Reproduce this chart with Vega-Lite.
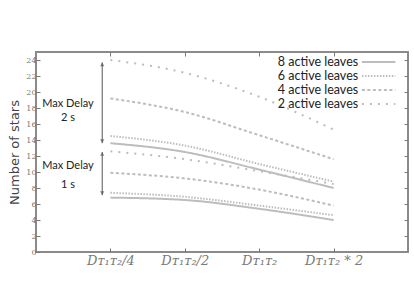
{
  "$schema": "https://vega.github.io/schema/vega-lite/v6.json",
  "width": 372,
  "height": 200,
  "autosize": "none",
  "padding": {"left": 36, "top": 52, "right": 6, "bottom": 50},
  "background": "white",
  "config": {
    "view": {"stroke": "#8a8a8a", "strokeWidth": 2},
    "axis": {"domain": false, "grid": false, "tickColor": "#777", "tickWidth": 1}
  },
  "datasets": {
    "lines": [
      {"leaves": "8 active leaves", "delay": "2 s", "x": 1, "y": 13.6},
      {"leaves": "8 active leaves", "delay": "2 s", "x": 2, "y": 12.5},
      {"leaves": "8 active leaves", "delay": "2 s", "x": 3, "y": 10.3},
      {"leaves": "8 active leaves", "delay": "2 s", "x": 4, "y": 8.0},
      {"leaves": "6 active leaves", "delay": "2 s", "x": 1, "y": 14.5},
      {"leaves": "6 active leaves", "delay": "2 s", "x": 2, "y": 13.3},
      {"leaves": "6 active leaves", "delay": "2 s", "x": 3, "y": 11.0},
      {"leaves": "6 active leaves", "delay": "2 s", "x": 4, "y": 8.8},
      {"leaves": "4 active leaves", "delay": "2 s", "x": 1, "y": 19.2},
      {"leaves": "4 active leaves", "delay": "2 s", "x": 2, "y": 17.5},
      {"leaves": "4 active leaves", "delay": "2 s", "x": 3, "y": 14.6},
      {"leaves": "4 active leaves", "delay": "2 s", "x": 4, "y": 11.6},
      {"leaves": "2 active leaves", "delay": "2 s", "x": 1, "y": 24.0},
      {"leaves": "2 active leaves", "delay": "2 s", "x": 2, "y": 22.4},
      {"leaves": "2 active leaves", "delay": "2 s", "x": 3, "y": 19.4},
      {"leaves": "2 active leaves", "delay": "2 s", "x": 4, "y": 15.3},
      {"leaves": "8 active leaves", "delay": "1 s", "x": 1, "y": 6.8},
      {"leaves": "8 active leaves", "delay": "1 s", "x": 2, "y": 6.5},
      {"leaves": "8 active leaves", "delay": "1 s", "x": 3, "y": 5.4},
      {"leaves": "8 active leaves", "delay": "1 s", "x": 4, "y": 4.0},
      {"leaves": "6 active leaves", "delay": "1 s", "x": 1, "y": 7.4},
      {"leaves": "6 active leaves", "delay": "1 s", "x": 2, "y": 6.9},
      {"leaves": "6 active leaves", "delay": "1 s", "x": 3, "y": 5.8},
      {"leaves": "6 active leaves", "delay": "1 s", "x": 4, "y": 4.6},
      {"leaves": "4 active leaves", "delay": "1 s", "x": 1, "y": 9.9},
      {"leaves": "4 active leaves", "delay": "1 s", "x": 2, "y": 9.2},
      {"leaves": "4 active leaves", "delay": "1 s", "x": 3, "y": 7.8},
      {"leaves": "4 active leaves", "delay": "1 s", "x": 4, "y": 5.8},
      {"leaves": "2 active leaves", "delay": "1 s", "x": 1, "y": 12.6},
      {"leaves": "2 active leaves", "delay": "1 s", "x": 2, "y": 11.6},
      {"leaves": "2 active leaves", "delay": "1 s", "x": 3, "y": 10.1},
      {"leaves": "2 active leaves", "delay": "1 s", "x": 4, "y": 8.5}
    ],
    "legend": [
      {"leaves": "8 active leaves", "x": 4.33, "xa": 4.38, "xb": 4.83, "y": 23.75},
      {"leaves": "6 active leaves", "x": 4.33, "xa": 4.38, "xb": 4.83, "y": 22.0},
      {"leaves": "4 active leaves", "x": 4.33, "xa": 4.38, "xb": 4.83, "y": 20.25},
      {"leaves": "2 active leaves", "x": 4.33, "xa": 4.38, "xb": 4.83, "y": 18.5}
    ],
    "arrows": [
      {"label": "2 s", "x": 0.89, "top": 23.7, "bottom": 13.6},
      {"label": "1 s", "x": 0.89, "top": 12.5, "bottom": 7.1}
    ],
    "notes": [
      {"text": "Max Delay", "x": 0.43, "y": 18.5},
      {"text": "2 s", "x": 0.43, "y": 16.75},
      {"text": "Max Delay", "x": 0.43, "y": 10.75},
      {"text": "1 s", "x": 0.43, "y": 8.4}
    ]
  },
  "resolve": {"axis": {"x": "independent", "y": "independent"}},
  "layer": [
    {
      "data": {"name": "lines"},
      "mark": {"type": "line", "color": "#bdbdbd", "strokeWidth": 2, "interpolate": "monotone"},
      "encoding": {
        "x": {
          "field": "x", "type": "quantitative",
          "scale": {"domain": [0, 5], "nice": false, "zero": false},
          "axis": {
            "title": null, "values": [1, 2, 3, 4], "tickSize": -4, "labelPadding": 6,
            "labelFont": "DejaVu Serif", "labelFontStyle": "italic", "labelFontSize": 13,
            "labelColor": "#7a7a7a",
            "labelExpr": "datum.value == 1 ? 'Dᴛ₁ᴛ₂/4' : datum.value == 2 ? 'Dᴛ₁ᴛ₂/2' : datum.value == 3 ? 'Dᴛ₁ᴛ₂' : 'Dᴛ₁ᴛ₂ * 2'"
          }
        },
        "y": {
          "field": "y", "type": "quantitative",
          "scale": {"domain": [0, 25], "nice": false},
          "axis": {
            "title": "Number of stars", "titleFont": "DejaVu Sans", "titleFontSize": 13,
            "titleFontWeight": "normal", "titleColor": "#444", "titlePadding": 4,
            "values": [0, 2, 4, 6, 8, 10, 12, 14, 16, 18, 20, 22, 24],
            "tickSize": -4, "labelPadding": 4, "labelFontSize": 8, "labelColor": "#777",
            "labelFont": "DejaVu Serif"
          }
        },
        "strokeDash": {
          "field": "leaves", "type": "nominal",
          "scale": {
            "domain": ["8 active leaves", "6 active leaves", "4 active leaves", "2 active leaves"],
            "range": [[1, 0], [1.5, 1.5], [3, 2.5], [2, 6]]
          },
          "legend": null
        },
        "detail": {"field": "delay"}
      }
    },
    {
      "data": {"name": "lines"},
      "mark": {"type": "rule", "opacity": 0},
      "encoding": {
        "x": {"field": "x", "type": "quantitative", "axis": {"orient": "top", "values": [1, 2, 3, 4], "tickSize": -4, "labels": false, "title": null}},
        "y": {"field": "y", "type": "quantitative", "axis": {"orient": "right", "values": [2, 4, 6, 8, 10, 12, 14, 16, 18, 20, 22, 24], "tickSize": -4, "labels": false, "title": null}}
      }
    },
    {
      "data": {"name": "legend"},
      "mark": {"type": "text", "align": "right", "baseline": "middle", "font": "Lato", "fontSize": 12.5, "color": "#222"},
      "encoding": {
        "x": {"field": "x", "type": "quantitative", "axis": null},
        "y": {"field": "y", "type": "quantitative", "axis": null},
        "text": {"field": "leaves"}
      }
    },
    {
      "data": {"name": "legend"},
      "mark": {"type": "rule", "color": "#bdbdbd", "strokeWidth": 2},
      "encoding": {
        "x": {"field": "xa", "type": "quantitative", "axis": null},
        "x2": {"field": "xb"},
        "y": {"field": "y", "type": "quantitative", "axis": null},
        "strokeDash": {"field": "leaves", "type": "nominal", "legend": null}
      }
    },
    {
      "data": {"name": "arrows"},
      "mark": {"type": "rule", "color": "#555", "strokeWidth": 1},
      "encoding": {
        "x": {"field": "x", "type": "quantitative", "axis": null},
        "y": {"field": "top", "type": "quantitative", "axis": null},
        "y2": {"field": "bottom"}
      }
    },
    {
      "data": {"name": "arrows"},
      "mark": {"type": "point", "shape": "triangle-up", "filled": true, "color": "#555", "size": 18, "yOffset": 2},
      "encoding": {
        "x": {"field": "x", "type": "quantitative", "axis": null},
        "y": {"field": "top", "type": "quantitative", "axis": null}
      }
    },
    {
      "data": {"name": "arrows"},
      "mark": {"type": "point", "shape": "triangle-down", "filled": true, "color": "#555", "size": 18, "yOffset": -2},
      "encoding": {
        "x": {"field": "x", "type": "quantitative", "axis": null},
        "y": {"field": "bottom", "type": "quantitative", "axis": null}
      }
    },
    {
      "data": {"name": "notes"},
      "mark": {"type": "text", "align": "center", "baseline": "middle", "font": "Lato", "fontSize": 11, "color": "#222"},
      "encoding": {
        "x": {"field": "x", "type": "quantitative", "axis": null},
        "y": {"field": "y", "type": "quantitative", "axis": null},
        "text": {"field": "text"}
      }
    }
  ]
}
